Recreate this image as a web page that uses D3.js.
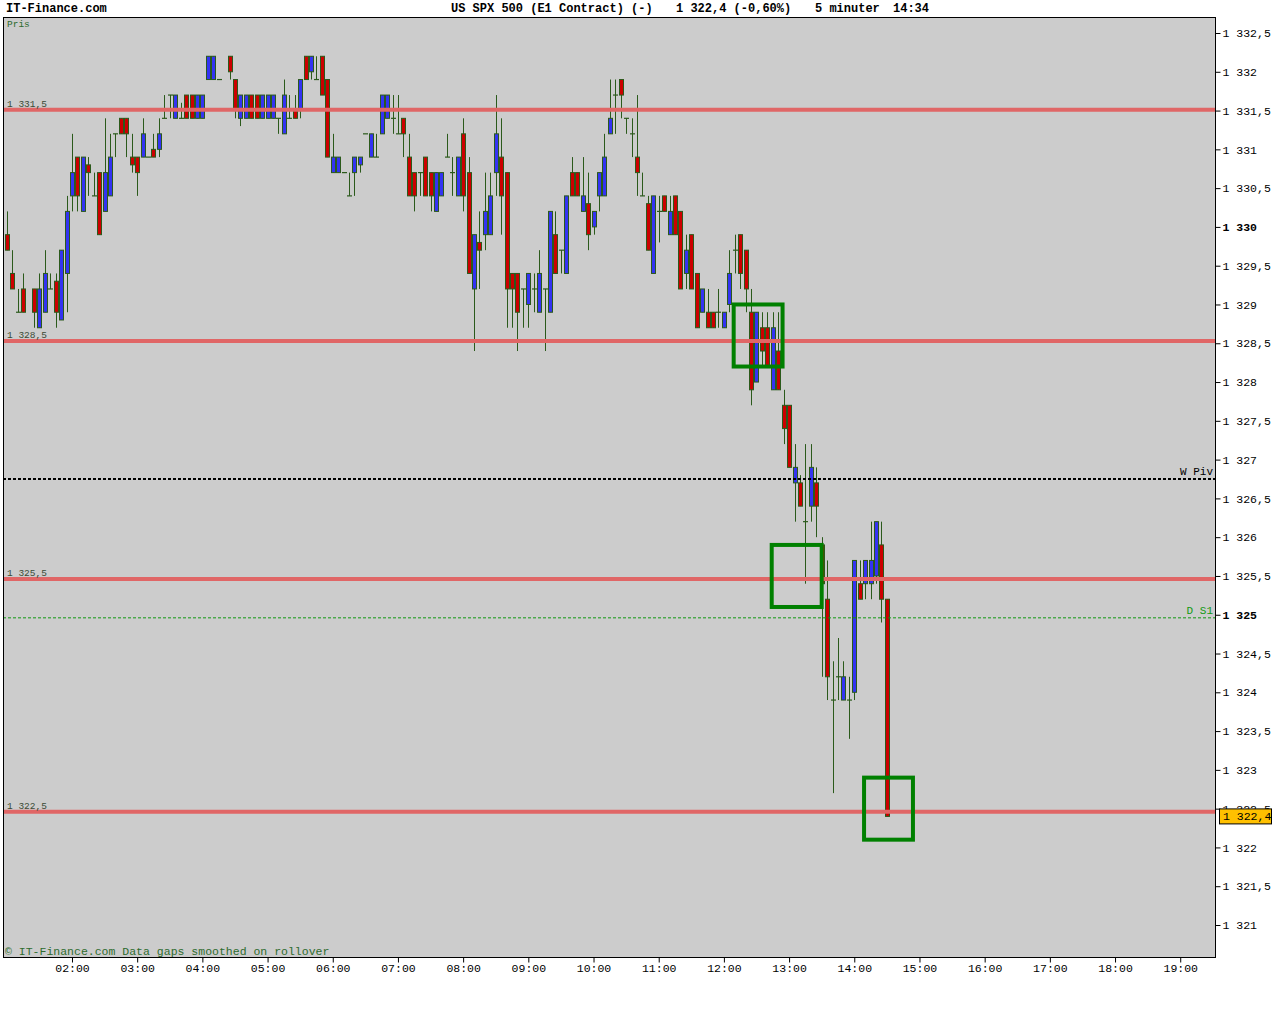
<!DOCTYPE html>
<html>
<head>
<meta charset="utf-8">
<script src="https://cdn.jsdelivr.net/npm/d3@7"></script>
<style>
  body { margin: 0; background: #ffffff; }
  svg { display: block; font-family: "Liberation Mono", "DejaVu Sans Mono", monospace; }
</style>
</head>
<body>
<script>
// 5 minute bars, US SPX 500 (01:20 and 04:20 have no bar)
var times = [
  "01:00","01:05","01:10","01:15","01:25","01:30","01:35","01:40","01:45","01:50","01:55",
  "02:00","02:05","02:10","02:15","02:20","02:25","02:30","02:35","02:40","02:45","02:50","02:55",
  "03:00","03:05","03:10","03:15","03:20","03:25","03:30","03:35","03:40","03:45","03:50","03:55",
  "04:00","04:05","04:10","04:15","04:25","04:30","04:35","04:40","04:45","04:50","04:55",
  "05:00","05:05","05:10","05:15","05:20","05:25","05:30","05:35","05:40","05:45","05:50","05:55",
  "06:00","06:05","06:10","06:15","06:20","06:25","06:30","06:35","06:40","06:45","06:50","06:55",
  "07:00","07:05","07:10","07:15","07:20","07:25","07:30","07:35","07:40","07:45","07:50","07:55",
  "08:00","08:05","08:10","08:15","08:20","08:25","08:30","08:35","08:40","08:45","08:50","08:55",
  "09:00","09:05","09:10","09:15","09:20","09:25","09:30","09:35","09:40","09:45","09:50","09:55",
  "10:00","10:05","10:10","10:15","10:20","10:25","10:30","10:35","10:40","10:45","10:50","10:55",
  "11:00","11:05","11:10","11:15","11:20","11:25","11:30","11:35","11:40","11:45","11:50","11:55",
  "12:00","12:05","12:10","12:15","12:20","12:25","12:30","12:35","12:40","12:45","12:50","12:55",
  "13:00","13:05","13:10","13:15","13:20","13:25","13:30","13:35","13:40","13:45","13:50","13:55",
  "14:00","14:05","14:10","14:15","14:20","14:25","14:30"
];

var opens = [
  1329.9,1329.4,1328.9,1329.2,1329.2,1328.7,1328.9,1329.2,1329.3,1328.8,1329.4,
  1330.4,1330.9,1330.2,1330.8,1330.4,1330.7,1330.2,1330.4,1331.2,1331.4,1331.4,1330.9,
  1330.9,1330.9,1330.9,1331.0,1331.0,1331.4,1331.7,1331.4,1331.4,1331.7,1331.7,1331.4,
  1331.4,1331.9,1331.9,1331.9,1332.2,1331.9,1331.4,1331.4,1331.7,1331.7,1331.4,
  1331.4,1331.4,1331.4,1331.2,1331.4,1331.5,1331.5,1332.2,1332.0,1331.9,1332.2,1331.9,
  1330.7,1330.7,1330.7,1330.4,1330.7,1330.8,1331.2,1330.9,1330.9,1331.2,1331.4,1331.4,
  1331.2,1331.4,1330.9,1330.7,1330.7,1330.9,1330.7,1330.2,1330.4,1330.9,1330.7,1330.4,
  1331.2,1330.7,1329.2,1329.8,1329.9,1329.9,1330.7,1330.9,1330.7,1329.4,1329.4,1329.2,
  1329.0,1329.2,1328.9,1329.2,1328.9,1329.9,1329.7,1329.4,1330.7,1330.7,1330.2,1330.3,
  1330.0,1330.4,1330.4,1331.2,1331.7,1331.9,1331.4,1331.2,1330.9,1330.4,1330.3,1329.4,
  1330.2,1330.4,1329.9,1330.4,1330.2,1329.4,1329.9,1329.4,1328.9,1328.9,1328.9,1328.9,
  1328.7,1329.0,1329.7,1329.9,1329.7,1328.9,1328.0,1328.7,1328.7,1327.9,1328.4,1327.7,
  1327.7,1326.7,1326.7,1326.2,1326.4,1326.7,1325.9,1325.2,1323.9,1324.2,1323.9,1323.9,
  1324.0,1325.4,1325.4,1325.4,1325.5,1325.9,1325.2
];

var highs = [
  1330.2,1329.7,1329.2,1329.4,1329.2,1329.4,1329.7,1329.4,1329.4,1329.7,1330.4,
  1331.2,1330.9,1330.9,1330.9,1330.7,1330.7,1331.4,1331.2,1331.2,1331.4,1331.4,1331.2,
  1330.9,1331.4,1330.9,1331.2,1331.4,1331.7,1331.7,1331.7,1331.6,1331.7,1331.7,1331.7,
  1331.7,1332.2,1332.2,1331.9,1332.2,1331.9,1331.7,1331.7,1331.7,1331.7,1331.7,
  1331.7,1331.7,1331.4,1331.9,1331.7,1331.7,1331.9,1332.2,1332.2,1332.2,1332.2,1331.9,
  1331.2,1330.9,1330.7,1330.7,1330.9,1330.9,1331.2,1331.2,1331.2,1331.7,1331.7,1331.7,
  1331.7,1331.4,1331.2,1330.7,1330.7,1330.9,1330.7,1330.7,1330.7,1331.2,1330.9,1330.9,
  1331.4,1330.9,1329.9,1330.2,1330.7,1330.7,1331.7,1331.4,1330.7,1329.4,1329.4,1329.2,
  1329.4,1329.4,1329.7,1329.2,1330.2,1330.2,1329.7,1330.4,1330.9,1330.7,1330.9,1330.7,
  1330.2,1330.7,1331.2,1331.9,1331.9,1331.9,1331.4,1331.4,1331.7,1330.7,1330.4,1330.4,
  1330.4,1330.4,1330.4,1330.4,1330.2,1329.9,1329.9,1329.4,1329.2,1329.2,1328.9,1329.2,
  1328.9,1329.7,1329.9,1329.9,1329.7,1329.2,1328.9,1328.9,1328.9,1328.9,1328.9,1327.9,
  1327.7,1327.2,1326.8,1327.2,1327.2,1326.9,1326.0,1325.7,1324.4,1324.7,1324.4,1324.2,
  1325.7,1325.7,1325.7,1326.2,1326.2,1326.2,1325.2
];

var lows = [
  1329.7,1329.2,1328.9,1328.9,1328.7,1328.7,1328.9,1329.2,1328.7,1328.8,1328.9,
  1330.2,1330.2,1330.2,1330.4,1330.4,1329.9,1330.2,1330.4,1330.9,1331.2,1330.9,1330.7,
  1330.4,1330.9,1330.9,1330.9,1330.9,1331.4,1331.4,1331.4,1331.4,1331.4,1331.4,1331.4,
  1331.4,1331.9,1331.9,1331.9,1331.9,1331.4,1331.3,1331.4,1331.4,1331.4,1331.4,
  1331.4,1331.4,1331.2,1331.2,1331.4,1331.4,1331.4,1331.9,1331.9,1331.9,1331.7,1330.9,
  1330.7,1330.7,1330.7,1330.4,1330.4,1330.7,1331.2,1330.9,1330.9,1331.2,1331.4,1331.2,
  1331.2,1330.9,1330.4,1330.2,1330.4,1330.4,1330.2,1330.2,1330.4,1330.9,1330.4,1330.4,
  1330.2,1329.4,1328.4,1329.2,1329.7,1329.9,1330.4,1329.9,1328.7,1328.7,1328.4,1328.7,
  1328.7,1328.9,1328.9,1328.4,1328.9,1329.4,1329.4,1329.4,1330.4,1330.4,1330.2,1329.7,
  1329.9,1330.2,1330.4,1331.2,1331.2,1331.4,1331.2,1330.9,1330.4,1330.4,1329.7,1329.4,
  1329.8,1330.2,1329.9,1329.9,1329.2,1329.2,1329.2,1328.7,1328.9,1328.7,1328.7,1328.7,
  1328.7,1328.9,1329.4,1329.2,1328.9,1327.7,1328.0,1328.2,1328.2,1327.9,1327.9,1327.2,
  1326.9,1326.2,1326.4,1325.4,1326.2,1326.0,1324.2,1323.9,1322.7,1323.9,1323.9,1323.4,
  1323.9,1325.2,1325.2,1325.2,1325.4,1324.9,1322.4
];

var closes = [
  1329.7,1329.2,1328.9,1328.9,1328.9,1329.2,1329.4,1329.2,1328.9,1329.7,1330.2,
  1330.7,1330.4,1330.9,1330.7,1330.4,1329.9,1330.7,1330.9,1331.2,1331.2,1331.2,1330.8,
  1330.7,1331.2,1330.9,1330.9,1331.2,1331.4,1331.7,1331.7,1331.4,1331.4,1331.4,1331.7,
  1331.7,1332.2,1332.2,1331.9,1332.0,1331.5,1331.7,1331.7,1331.4,1331.4,1331.7,
  1331.7,1331.7,1331.4,1331.7,1331.4,1331.4,1331.9,1331.9,1332.2,1331.9,1331.7,1330.9,
  1330.9,1330.9,1330.7,1330.4,1330.9,1330.9,1331.2,1331.2,1330.9,1331.7,1331.7,1331.4,
  1331.2,1331.2,1330.4,1330.4,1330.7,1330.4,1330.4,1330.7,1330.7,1330.9,1330.7,1330.9,
  1330.4,1329.4,1329.9,1329.7,1330.2,1330.4,1331.2,1330.4,1329.2,1329.2,1328.9,1329.2,
  1329.4,1329.2,1329.4,1329.2,1330.2,1329.4,1329.7,1330.4,1330.4,1330.4,1330.4,1329.9,
  1330.2,1330.7,1330.9,1331.4,1331.7,1331.7,1331.4,1331.2,1330.7,1330.4,1329.7,1330.4,
  1330.2,1330.2,1330.2,1329.9,1329.2,1329.7,1329.2,1328.7,1329.2,1328.7,1328.7,1328.9,
  1328.9,1329.4,1329.7,1329.4,1329.2,1327.9,1328.9,1328.4,1328.2,1328.7,1327.9,1327.4,
  1326.9,1326.9,1326.4,1326.2,1326.9,1326.4,1325.4,1324.2,1323.9,1324.2,1324.2,1323.9,
  1325.7,1325.2,1325.7,1325.7,1326.2,1325.2,1322.4
];

// axis ticks
var yTicks = [1332.5,1332,1331.5,1331,1330.5,1330,1329.5,1329,1328.5,1328,1327.5,1327,
              1326.5,1326,1325.5,1325,1324.5,1324,1323.5,1323,1322.5,1322,1321.5,1321];
var yBoldTicks = [1330, 1325];
var xTicks = ["02:00","03:00","04:00","05:00","06:00","07:00","08:00","09:00","10:00",
              "11:00","12:00","13:00","14:00","15:00","16:00","17:00","18:00","19:00"];

// support / resistance lines (as drawn) and pivots
var levelLines = [1331.51, 1328.53, 1325.46, 1322.46];
var weeklyPivot = 1326.75;
var dailyS1 = 1324.96;
var lastPrice = 1322.4;

// green marker boxes
var boxStart = ["12:09", "12:44", "14:09"];
var boxEnd = ["12:54", "13:30", "14:54"];
var boxTop = [1329.0, 1325.9, 1322.9];
var boxBottom = [1328.2, 1325.1, 1322.1];

function toMin(t) {
  var p = t.split(":");
  return +p[0] * 60 + +p[1];
}

var svgWidth = 1280, svgHeight = 1024;
var plot = { left: 3, right: 1215, top: 17, bottom: 957 };

var svg = d3.select("body").append("svg")
  .attr("width", svgWidth)
  .attr("height", svgHeight);

var x = d3.scaleLinear().domain([56.5, 1172]).range([plot.left, plot.right]);
var y = d3.scaleLinear().domain([1321, 1332.5]).range([925, 33]);

var fmt = d3.formatLocale({ decimal: ",", thousands: " ", grouping: [3], currency: ["", ""] })
  .format(",.1~f");

// plot background
svg.append("rect")
  .attr("x", plot.left).attr("y", plot.top)
  .attr("width", plot.right - plot.left).attr("height", plot.bottom - plot.top)
  .attr("fill", "#cccccc");

svg.append("clipPath").attr("id", "clip")
  .append("rect")
  .attr("x", plot.left).attr("y", plot.top)
  .attr("width", plot.right - plot.left).attr("height", plot.bottom - plot.top);

var chartGroup = svg.append("g").attr("clip-path", "url(#clip)");

var bars = times.map(function(t, i) {
  return { t: toMin(t), o: opens[i], h: highs[i], l: lows[i], c: closes[i] };
});

var wickColor = "#2b5a1b";

// wicks
chartGroup.selectAll(".wick")
  .data(bars.filter(function(d) { return d.h > d.l; }))
  .enter().append("line")
  .attr("class", "wick")
  .attr("x1", function(d) { return Math.round(x(d.t)) + 0.5; })
  .attr("x2", function(d) { return Math.round(x(d.t)) + 0.5; })
  .attr("y1", function(d) { return y(d.h); })
  .attr("y2", function(d) { return y(d.l); })
  .attr("stroke", wickColor)
  .attr("stroke-width", 1);

// bodies
chartGroup.selectAll(".body")
  .data(bars.filter(function(d) { return d.o !== d.c; }))
  .enter().append("rect")
  .attr("class", "body")
  .attr("x", function(d) { return Math.round(x(d.t)) - 1.5; })
  .attr("y", function(d) { return y(Math.max(d.o, d.c)); })
  .attr("width", 4)
  .attr("height", function(d) { return Math.abs(y(d.o) - y(d.c)); })
  .attr("fill", function(d) { return d.c > d.o ? "#3333f2" : "#cc0000"; })
  .attr("stroke", wickColor)
  .attr("stroke-width", 1);

// doji ticks
chartGroup.selectAll(".doji")
  .data(bars.filter(function(d) { return d.o === d.c; }))
  .enter().append("line")
  .attr("class", "doji")
  .attr("x1", function(d) { return Math.round(x(d.t)) - 2; })
  .attr("x2", function(d) { return Math.round(x(d.t)) + 3; })
  .attr("y1", function(d) { return y(d.o); })
  .attr("y2", function(d) { return y(d.o); })
  .attr("stroke", wickColor)
  .attr("stroke-width", 1.2);

// red levels
chartGroup.selectAll(".level")
  .data(levelLines)
  .enter().append("line")
  .attr("class", "level")
  .attr("x1", plot.left).attr("x2", plot.right)
  .attr("y1", function(d) { return y(d); })
  .attr("y2", function(d) { return y(d); })
  .attr("stroke", "#e06666")
  .attr("stroke-width", 4);

svg.selectAll(".levelText")
  .data(levelLines)
  .enter().append("text")
  .attr("class", "levelText")
  .attr("x", 7)
  .attr("y", function(d) { return y(d) - 3; })
  .attr("font-size", "9.5px")
  .attr("fill", "#3b4b36")
  .text(function(d) { return fmt(d); });

// weekly pivot
chartGroup.append("line")
  .attr("x1", plot.left).attr("x2", plot.right)
  .attr("y1", y(weeklyPivot)).attr("y2", y(weeklyPivot))
  .attr("stroke", "#000000")
  .attr("stroke-width", 2)
  .attr("stroke-dasharray", "3,2");

svg.append("text")
  .attr("x", 1213).attr("y", y(weeklyPivot) - 4)
  .attr("text-anchor", "end")
  .attr("font-size", "11px")
  .attr("fill", "#000000")
  .text("W Piv");

// daily S1
chartGroup.append("line")
  .attr("x1", plot.left).attr("x2", plot.right)
  .attr("y1", y(dailyS1)).attr("y2", y(dailyS1))
  .attr("stroke", "#119911")
  .attr("stroke-width", 1)
  .attr("stroke-dasharray", "3,2");

svg.append("text")
  .attr("x", 1213).attr("y", y(dailyS1) - 4)
  .attr("text-anchor", "end")
  .attr("font-size", "11px")
  .attr("fill", "#119911")
  .text("D S1");

// green boxes
chartGroup.selectAll(".box")
  .data(boxStart)
  .enter().append("rect")
  .attr("class", "box")
  .attr("x", function(d, i) { return x(toMin(boxStart[i])); })
  .attr("y", function(d, i) { return y(boxTop[i]); })
  .attr("width", function(d, i) { return x(toMin(boxEnd[i])) - x(toMin(boxStart[i])); })
  .attr("height", function(d, i) { return y(boxBottom[i]) - y(boxTop[i]); })
  .attr("fill", "none")
  .attr("stroke", "#008000")
  .attr("stroke-width", 4);

// plot frame
svg.append("rect")
  .attr("x", plot.left + 0.5).attr("y", plot.top + 0.5)
  .attr("width", plot.right - plot.left).attr("height", plot.bottom - plot.top)
  .attr("fill", "none")
  .attr("stroke", "#000000")
  .attr("stroke-width", 1);

// y axis
var rightAxis = d3.axisRight(y)
  .tickValues(yTicks)
  .tickSize(5)
  .tickPadding(2)
  .tickFormat(fmt);

var yAxisGroup = svg.append("g")
  .attr("transform", "translate(" + (plot.right + 0.5) + ",0)")
  .call(rightAxis);
yAxisGroup.select(".domain").remove();
yAxisGroup.attr("font-family", null).attr("font-size", null);
yAxisGroup.selectAll("text")
  .attr("font-size", "11.5px")
  .attr("fill", "#000000")
  .attr("font-weight", function(d) { return yBoldTicks.indexOf(d) >= 0 ? "bold" : "normal"; });
yAxisGroup.selectAll("line").attr("stroke", "#000000");

// x axis
var bottomAxis = d3.axisBottom(x)
  .tickValues(xTicks.map(toMin))
  .tickSize(5)
  .tickPadding(1)
  .tickFormat(function(d, i) { return xTicks[i]; });

var xAxisGroup = svg.append("g")
  .attr("transform", "translate(0," + (plot.bottom + 0.5) + ")")
  .call(bottomAxis);
xAxisGroup.select(".domain").remove();
xAxisGroup.attr("font-family", null).attr("font-size", null);
xAxisGroup.selectAll("text").attr("font-size", "11.5px").attr("fill", "#000000");
xAxisGroup.selectAll("line").attr("stroke", "#000000");

// last price marker
var lastY = y(lastPrice);
svg.append("rect")
  .attr("x", 1219.5).attr("y", lastY - 7.5)
  .attr("width", 52).attr("height", 15)
  .attr("fill", "#ffc000")
  .attr("stroke", "#000000")
  .attr("stroke-width", 1);
svg.append("text")
  .attr("x", 1223).attr("y", lastY + 4)
  .attr("font-size", "11.5px")
  .attr("fill", "#000000")
  .text(fmt(lastPrice));

// header
var header = [
  { x: 6, text: "IT-Finance.com" },
  { x: 451, text: "US SPX 500 (E1 Contract) (-)" },
  { x: 676, text: "1 322,4 (-0,60%)" },
  { x: 815, text: "5 minuter" },
  { x: 893, text: "14:34" }
];
svg.selectAll(".header")
  .data(header)
  .enter().append("text")
  .attr("class", "header")
  .attr("x", function(d) { return d.x; })
  .attr("y", 12)
  .attr("font-size", "12px")
  .attr("font-weight", "bold")
  .attr("fill", "#000000")
  .text(function(d) { return d.text; });

svg.append("text")
  .attr("x", 7).attr("y", 27)
  .attr("font-size", "9.5px")
  .attr("fill", "#2e6b2e")
  .text("Pris");

svg.append("text")
  .attr("x", 5).attr("y", 955)
  .attr("font-size", "11.5px")
  .attr("fill", "#2e6b2e")
  .text("\u00a9 IT-Finance.com Data gaps smoothed on rollover");
</script>
</body>
</html>
